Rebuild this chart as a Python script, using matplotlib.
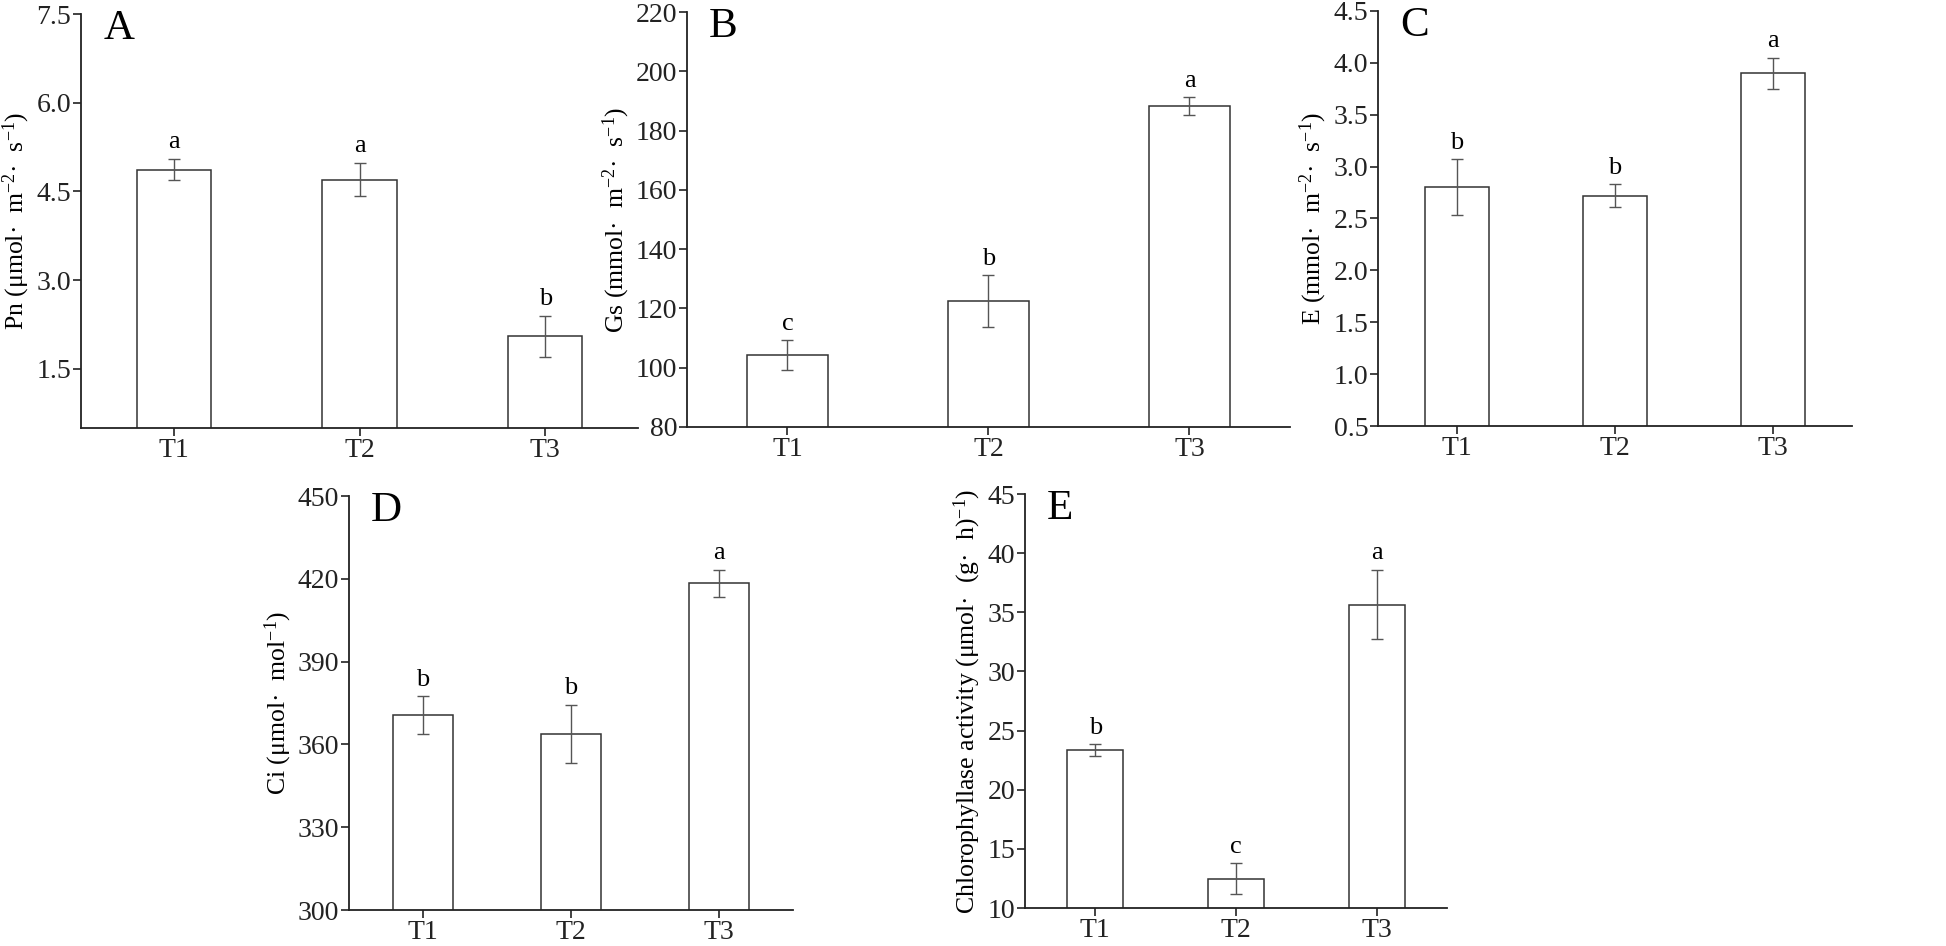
import matplotlib
matplotlib.use("Agg")
import matplotlib.pyplot as plt

# --- data ---
groups = ["T1", "T2", "T3"]

pn = [4.87, 4.70, 2.05]
pn_err = [0.18, 0.28, 0.35]
pn_sig = ["a", "a", "b"]

gs = [104.2, 122.5, 188.2]
gs_err = [5.0, 8.7, 3.0]
gs_sig = ["c", "b", "a"]

e_vals = [2.80, 2.72, 3.90]
e_err = [0.27, 0.11, 0.15]
e_sig = ["b", "b", "a"]

ci = [370.7, 363.7, 418.3]
ci_err = [6.8, 10.6, 5.0]
ci_sig = ["b", "b", "a"]

chl = [23.35, 12.47, 35.65]
chl_err = [0.5, 1.3, 2.95]
chl_sig = ["b", "c", "a"]

plt.rcParams["font.family"] = ["Liberation Serif", "DejaVu Serif"]
plt.rcParams["mathtext.fontset"] = "custom"
plt.rcParams["mathtext.rm"] = "Liberation Serif"
plt.rcParams["mathtext.it"] = "Liberation Serif:italic"

W, H = 1946, 946
fig = plt.figure(figsize=(W / 100, H / 100), dpi=100)


def box(x0, x1, ytop, ybot):
    return [x0 / W, 1 - ybot / H, (x1 - x0) / W, (ybot - ytop) / H]


panels = [
    # letter, values, errors, sig, ylim, yticks, ylabel, axes box, tick format
    ("A", pn, pn_err, pn_sig, (0.5, 7.5), [1.5, 3.0, 4.5, 6.0, 7.5],
     r"Pn (μmol·  m$^{-2}$·  s$^{-1}$)", box(81, 638, 14, 428), "%.1f"),
    ("B", gs, gs_err, gs_sig, (80, 220), list(range(80, 221, 20)),
     r"Gs (mmol·  m$^{-2}$·  s$^{-1}$)", box(687, 1290, 12, 427), "%d"),
    ("C", e_vals, e_err, e_sig, (0.5, 4.5), [0.5 + 0.5 * i for i in range(9)],
     r"E (mmol·  m$^{-2}$·  s$^{-1}$)", box(1378, 1852, 11, 426), "%.1f"),
    ("D", ci, ci_err, ci_sig, (300, 450), list(range(300, 451, 30)),
     r"Ci (μmol·  mol$^{-1}$)", box(349, 793, 496, 910), "%d"),
    ("E", chl, chl_err, chl_sig, (10, 45), list(range(10, 46, 5)),
     r"Chlorophyllase activity (μmol·  (g·  h)$^{-1}$)", box(1025, 1447, 494, 908), "%d"),
]

x = [1, 2, 3]
for letter, vals, errs, sig, ylim, yticks, ylabel, rect, fmt in panels:
    ax = fig.add_axes(rect)
    ax.bar(x, vals, width=0.4, color="white", edgecolor="#333333", linewidth=1.1)
    ax.errorbar(x, vals, yerr=errs, fmt="none", ecolor="#555555",
                elinewidth=1.0, capsize=4, capthick=1.0)
    for xi, v, er, s in zip(x, vals, errs, sig):
        ax.annotate(s, xy=(xi, v + er), xytext=(0, 4), textcoords="offset points",
                    ha="center", va="bottom", fontsize=19)
    ax.set_xlim(0.5, 3.5)
    ax.set_ylim(*ylim)
    ax.set_yticks(yticks)
    ax.set_yticklabels([fmt % t for t in yticks])
    ax.set_xticks(x)
    ax.set_xticklabels(groups)
    ax.spines["top"].set_visible(False)
    ax.spines["right"].set_visible(False)
    for sp in ("left", "bottom"):
        ax.spines[sp].set_linewidth(1.3)
        ax.spines[sp].set_color("#222222")
    ax.tick_params(axis="both", direction="out", length=5.5, width=1.2,
                   labelsize=20, colors="#222222", pad=1.5)
    ax.set_ylabel(ylabel, fontsize=18.5, labelpad=3)
    ax.annotate(letter, xy=(0, 1), xycoords="axes fraction", xytext=(16, 3),
                textcoords="offset points", ha="left", va="top", fontsize=31)

fig.savefig("out.png", dpi=100)
